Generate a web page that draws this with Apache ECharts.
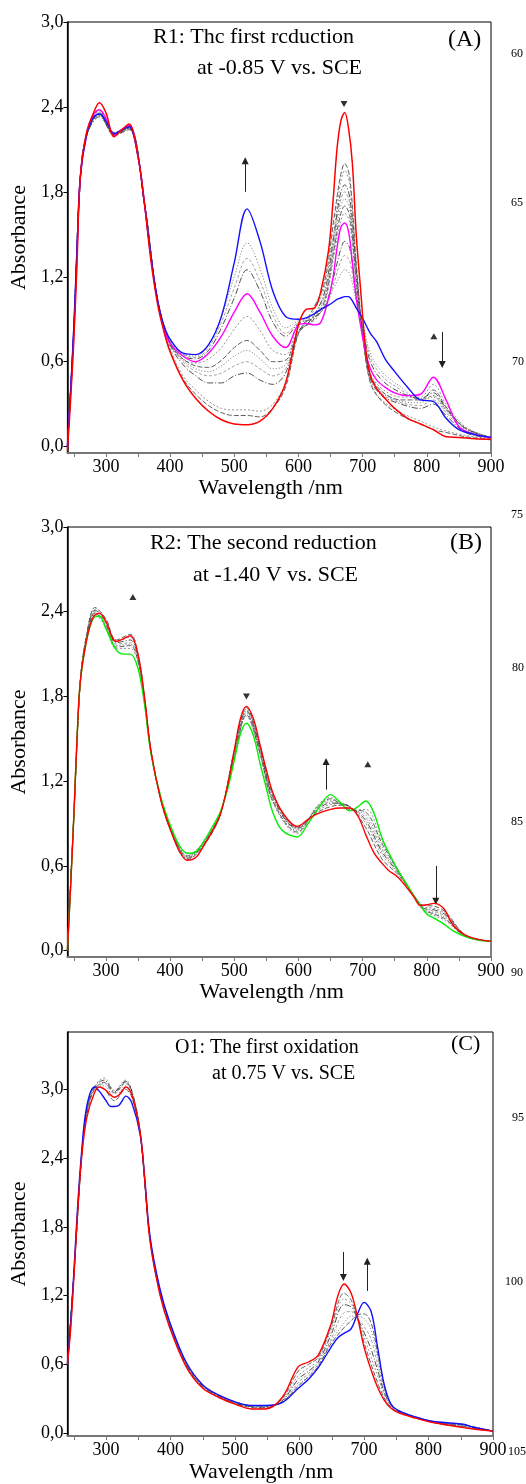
<!DOCTYPE html>
<html><head><meta charset="utf-8">
<script src="https://cdn.jsdelivr.net/npm/echarts@6.0.0/dist/echarts.min.js"></script>
<style>html,body{margin:0;padding:0;background:#fff}#c{width:526px;height:1484px}</style>
</head><body><div id="c"></div>
<script>
// ---------- Panel A : R1 ----------
const WL_A = [240,245,250,255,260,270,280,290,300,313,325,336,350,360,370,380,390,400,420,440,460,480,500,520,540,560,580,600,612,625,635,647,654,660,666,672,678,684,690,697,704,712,722,735,750,770,790,810,830,850,875,900];
const A_RED = [-0.03,0.33,0.75,1.3,1.9,2.22,2.35,2.43,2.36,2.19,2.24,2.28,2.05,1.72,1.32,1.02,0.82,0.67,0.47,0.34,0.25,0.19,0.16,0.155,0.18,0.27,0.45,0.86,0.97,0.98,1.1,1.39,1.74,2.1,2.3,2.36,2.25,2.0,1.5,1.1,0.72,0.5,0.41,0.34,0.27,0.2,0.16,0.12,0.07,0.065,0.055,0.05];
const A_BLUE = [0.0,0.4,0.85,1.4,1.9,2.2,2.32,2.35,2.3,2.21,2.24,2.26,2.05,1.72,1.35,1.05,0.86,0.76,0.66,0.65,0.72,0.92,1.3,1.68,1.45,1.1,0.92,0.9,0.91,0.94,0.97,1.0,1.02,1.04,1.05,1.06,1.06,1.03,0.98,0.93,0.87,0.8,0.74,0.62,0.53,0.42,0.33,0.32,0.2,0.12,0.085,0.065];
const A_MAGENTA = [0.0,0.38,0.8,1.35,1.9,2.22,2.34,2.38,2.32,2.2,2.24,2.27,2.05,1.72,1.34,1.04,0.84,0.73,0.64,0.6,0.66,0.78,0.95,1.08,0.95,0.78,0.7,0.86,0.87,0.86,0.88,1.05,1.2,1.4,1.55,1.58,1.52,1.3,1.05,0.85,0.68,0.55,0.47,0.42,0.38,0.36,0.37,0.49,0.33,0.14,0.085,0.065];
const WL_A_GRAY = [240,250,260,270,290,313,336,360,380,400,420,440,460,480,500,520,540,560,580,600,620,640,655,665,672,680,690,700,712,730,760,790,810,830,860,900];
const A_GRAY1 = [0.0,0.8,1.88,2.2,2.38,2.2,2.26,1.72,1.03,0.68,0.48,0.37,0.29,0.24,0.22,0.22,0.21,0.27,0.42,0.8,0.95,1.15,1.6,1.9,2.0,1.9,1.3,0.8,0.45,0.32,0.22,0.16,0.12,0.1,0.07,0.05];
const A_GRAY2 = [0.0,0.82,1.88,2.21,2.37,2.21,2.26,1.72,1.04,0.7,0.5,0.4,0.32,0.27,0.26,0.26,0.25,0.3,0.45,0.8,0.93,1.12,1.52,1.85,1.95,1.85,1.28,0.8,0.46,0.33,0.24,0.18,0.14,0.11,0.08,0.055];
const A_GRAY3 = [0.0,0.85,1.9,2.2,2.36,2.2,2.25,1.72,1.05,0.72,0.58,0.5,0.45,0.45,0.5,0.52,0.47,0.44,0.52,0.8,0.9,1.08,1.48,1.78,1.85,1.76,1.25,0.8,0.48,0.36,0.3,0.27,0.3,0.22,0.1,0.06];
const A_GRAY4 = [0.0,0.82,1.88,2.21,2.35,2.21,2.26,1.72,1.05,0.73,0.6,0.53,0.5,0.52,0.57,0.6,0.55,0.5,0.55,0.8,0.9,1.06,1.44,1.73,1.8,1.72,1.22,0.8,0.49,0.37,0.31,0.29,0.33,0.24,0.11,0.06];
const A_GRAY5 = [0.0,0.8,1.86,2.2,2.34,2.22,2.25,1.71,1.05,0.73,0.61,0.55,0.53,0.57,0.64,0.68,0.62,0.55,0.58,0.81,0.89,1.04,1.41,1.68,1.75,1.68,1.2,0.8,0.5,0.38,0.32,0.31,0.36,0.26,0.12,0.06];
const A_GRAY6 = [0.0,0.83,1.88,2.21,2.35,2.2,2.24,1.72,1.04,0.73,0.62,0.57,0.56,0.61,0.7,0.75,0.68,0.6,0.61,0.82,0.88,1.02,1.38,1.63,1.7,1.63,1.17,0.8,0.51,0.39,0.33,0.33,0.4,0.28,0.13,0.06];
const A_GRAY7 = [0.0,0.85,1.9,2.22,2.36,2.21,2.25,1.72,1.05,0.73,0.62,0.59,0.62,0.7,0.83,0.92,0.82,0.68,0.65,0.84,0.87,1.0,1.34,1.58,1.65,1.58,1.14,0.82,0.52,0.41,0.35,0.35,0.44,0.3,0.14,0.065];
const A_GRAY8 = [0.0,0.82,1.88,2.2,2.33,2.22,2.25,1.72,1.05,0.74,0.64,0.62,0.68,0.84,1.05,1.25,1.1,0.88,0.78,0.87,0.9,0.98,1.2,1.38,1.45,1.4,1.08,0.84,0.6,0.47,0.38,0.34,0.38,0.27,0.13,0.065];
const A_GRAY9 = [0.0,0.83,1.88,2.2,2.34,2.21,2.25,1.72,1.05,0.75,0.65,0.63,0.7,0.88,1.12,1.33,1.17,0.93,0.8,0.88,0.91,0.98,1.15,1.3,1.35,1.31,1.05,0.86,0.63,0.5,0.4,0.33,0.36,0.26,0.13,0.065];
const A_GRAY10 = [0.0,0.84,1.89,2.2,2.34,2.21,2.25,1.72,1.05,0.75,0.65,0.64,0.72,0.92,1.2,1.44,1.26,0.98,0.84,0.89,0.92,0.99,1.12,1.21,1.25,1.22,1.03,0.88,0.66,0.53,0.42,0.33,0.35,0.25,0.13,0.065];

// ---------- Panel B : R2 ----------
const WL_B = [240,245,250,255,260,270,280,290,300,316,328,338,350,360,370,386,401,415,427,440,452,465,478,490,500,510,519,530,540,550,560,575,598,615,630,650,665,680,693,705,718,730,740,755,770,780,790,800,811,826,841,860,880,900];
const B_RED = [0.0,0.45,0.95,1.5,1.9,2.2,2.36,2.39,2.33,2.19,2.21,2.23,2.1,1.8,1.42,1.06,0.85,0.7,0.64,0.66,0.74,0.84,0.96,1.18,1.42,1.65,1.73,1.64,1.46,1.28,1.12,0.98,0.88,0.93,0.97,1.0,1.01,1.01,0.95,0.82,0.69,0.62,0.57,0.52,0.44,0.38,0.32,0.325,0.335,0.3,0.18,0.11,0.08,0.066];
const B_GREEN = [0.0,0.45,0.95,1.5,1.9,2.2,2.35,2.37,2.28,2.13,2.1,2.1,2.0,1.75,1.4,1.08,0.88,0.74,0.69,0.7,0.77,0.87,0.98,1.15,1.35,1.54,1.61,1.52,1.33,1.15,0.98,0.85,0.805,0.9,1.0,1.105,1.05,0.99,1.02,1.06,0.97,0.8,0.7,0.57,0.46,0.385,0.32,0.26,0.23,0.19,0.14,0.1,0.075,0.066];
const WL_B_GRAY = [240,250,260,270,283,300,316,338,350,360,370,386,401,427,452,478,500,519,540,560,598,630,650,668,680,705,730,755,780,795,811,830,860,900];
const B_GRAY1 = [0.0,0.95,1.9,2.24,2.43,2.35,2.2,2.24,2.1,1.8,1.42,1.06,0.85,0.645,0.74,0.96,1.42,1.72,1.45,1.11,0.875,0.98,1.02,1.03,1.02,0.87,0.65,0.54,0.39,0.32,0.315,0.27,0.11,0.066];
const B_GRAY2 = [0.0,0.95,1.9,2.23,2.42,2.34,2.19,2.22,2.09,1.8,1.42,1.06,0.85,0.65,0.745,0.96,1.41,1.71,1.44,1.1,0.87,0.99,1.035,1.04,1.02,0.9,0.68,0.55,0.39,0.31,0.3,0.26,0.11,0.066];
const B_GRAY3 = [0.0,0.95,1.9,2.23,2.41,2.33,2.18,2.2,2.08,1.79,1.42,1.06,0.86,0.655,0.75,0.965,1.4,1.7,1.43,1.09,0.865,1.0,1.045,1.04,1.02,0.92,0.7,0.555,0.39,0.3,0.29,0.25,0.11,0.066];
const B_GRAY4 = [0.0,0.95,1.9,2.22,2.4,2.32,2.17,2.18,2.07,1.78,1.41,1.07,0.86,0.66,0.755,0.97,1.39,1.69,1.42,1.08,0.86,1.01,1.055,1.04,1.01,0.94,0.72,0.56,0.39,0.3,0.28,0.24,0.105,0.066];
const B_GRAY5 = [0.0,0.95,1.9,2.22,2.39,2.31,2.16,2.17,2.06,1.78,1.41,1.07,0.86,0.665,0.76,0.97,1.38,1.68,1.41,1.07,0.85,1.02,1.065,1.035,1.0,0.96,0.74,0.565,0.39,0.29,0.27,0.23,0.105,0.066];
const B_GRAY6 = [0.0,0.95,1.9,2.21,2.39,2.3,2.15,2.16,2.05,1.77,1.41,1.07,0.87,0.67,0.765,0.975,1.37,1.67,1.4,1.06,0.84,1.02,1.075,1.03,1.0,0.98,0.76,0.57,0.39,0.29,0.26,0.22,0.1,0.066];
const B_GRAY7 = [0.0,0.95,1.9,2.21,2.38,2.29,2.14,2.14,2.04,1.76,1.4,1.07,0.87,0.675,0.77,0.975,1.36,1.66,1.39,1.05,0.83,1.03,1.085,1.025,0.995,1.0,0.78,0.57,0.39,0.28,0.25,0.21,0.1,0.066];

// ---------- Panel C : O1 ----------
const WL_C = [240,245,250,255,262,270,282,290,300,307,313,320,331,340,353,360,368,383,398,424,450,475,501,525,547,573,598,614,629,649,659,669,680,690,700,711,721,731,741,752,780,803,829,854,870,900];
const C_RED = [0.6,0.9,1.35,1.85,2.4,2.75,2.97,3.02,2.99,2.95,2.93,2.95,3.02,2.95,2.62,2.2,1.68,1.22,0.93,0.58,0.39,0.31,0.25,0.21,0.21,0.31,0.58,0.62,0.68,0.955,1.19,1.3,1.22,1.01,0.75,0.55,0.4,0.29,0.22,0.18,0.13,0.096,0.07,0.047,0.035,0.017];
const C_BLUE = [0.6,0.95,1.4,1.9,2.45,2.85,3.02,2.98,2.9,2.85,2.85,2.86,2.94,2.88,2.6,2.22,1.72,1.27,0.98,0.62,0.42,0.33,0.27,0.24,0.24,0.265,0.39,0.47,0.57,0.75,0.83,0.87,0.91,1.04,1.14,1.06,0.75,0.43,0.26,0.2,0.14,0.105,0.09,0.076,0.05,0.017];
const WL_C_GRAY = [240,250,262,270,282,297,313,330,340,353,368,383,398,424,450,501,547,573,598,614,629,649,669,680,690,700,711,721,731,741,752,803,854,900];
const C_GRAY1 = [0.6,1.37,2.4,2.78,3.0,3.06,2.97,3.06,2.98,2.62,1.69,1.23,0.94,0.59,0.395,0.255,0.215,0.3,0.54,0.6,0.66,0.93,1.22,1.16,1.0,0.79,0.6,0.44,0.31,0.23,0.185,0.098,0.05,0.017];
const C_GRAY2 = [0.6,1.37,2.4,2.78,3.02,3.1,2.99,3.08,2.99,2.62,1.69,1.23,0.95,0.6,0.4,0.26,0.22,0.29,0.5,0.57,0.64,0.9,1.17,1.13,1.0,0.84,0.66,0.5,0.34,0.24,0.19,0.1,0.055,0.017];
const C_GRAY3 = [0.6,1.38,2.42,2.8,3.02,3.08,2.98,3.07,2.98,2.62,1.7,1.24,0.95,0.6,0.405,0.26,0.225,0.28,0.47,0.54,0.62,0.86,1.12,1.1,1.0,0.88,0.73,0.55,0.36,0.25,0.19,0.1,0.06,0.017];
const C_GRAY4 = [0.6,1.38,2.42,2.8,3.01,3.05,2.96,3.05,2.97,2.61,1.7,1.25,0.96,0.61,0.41,0.265,0.23,0.275,0.44,0.52,0.6,0.82,1.05,1.06,1.0,0.93,0.82,0.6,0.38,0.25,0.19,0.1,0.065,0.017];
const C_GRAY5 = [0.6,1.39,2.43,2.82,3.02,3.03,2.93,3.03,2.95,2.61,1.71,1.26,0.97,0.61,0.415,0.265,0.235,0.27,0.42,0.5,0.59,0.8,0.96,1.02,1.02,1.0,0.9,0.66,0.4,0.26,0.195,0.1,0.07,0.017];
const C_GRAY6 = [0.6,1.39,2.43,2.82,3.02,3.0,2.9,3.0,2.93,2.6,1.71,1.26,0.97,0.615,0.415,0.27,0.235,0.27,0.41,0.49,0.58,0.78,0.92,0.98,1.03,1.04,0.96,0.7,0.42,0.26,0.2,0.105,0.07,0.017];

// ---------- ticks, labels, annotations ----------
const X_LABELS = [300,400,500,600,700,800,900];
const X_TICKS = [250,300,350,400,450,500,550,600,650,700,750,800,850,900];
const Y_LABELS = [0,0.6,1.2,1.8,2.4,3.0];
const PANEL_TITLES = [
  ['R1: Thc first rcduction', 'at -0.85 V vs. SCE', '(A)'],
  ['R2: The second reduction', 'at -1.40 V vs. SCE', '(B)'],
  ['O1: The first oxidation', 'at 0.75 V vs. SCE', '(C)']
];
const LINE_NUMBERS = ['60','65','70','75','80','85','90','95','100','105'];
// annotation marks in data units: [wavelength, absorbance]
const A_TRIS = [[671, 2.42, 'down'], [811, 0.78, 'up']];
const A_ARROWS = [[517, 1.80, 2.02], [824, 0.81, 0.58]];
const B_TRIS = [[342, 2.505, 'up'], [519, 1.80, 'down'], [708, 1.32, 'up']];
const B_ARROWS = [[643, 1.14, 1.34], [814, 0.60, 0.35]];
const C_TRIS = [];
const C_ARROWS = [[668, 1.58, 1.357], [705, 1.24, 1.50]];

// ---------- build ----------
const FONT = 'Liberation Serif';
const pts = (wl, v) => wl.map((x, i) => [x, v[i]]);
const GRAY_STYLES = [
  {color:'#3a3a3a', type:[5,2]},
  {color:'#7a7a7a', type:[2,2]},
  {color:'#222', type:[6,2,1,2]},
  {color:'#8a8a8a', type:[3,2]},
  {color:'#555', type:[1,2]}
];
function line(gi, wl, v, color, width, type, z) {
  return {type:'line', xAxisIndex:gi, yAxisIndex:gi, data:pts(wl, v), symbol:'none', showSymbol:false,
    smooth:0.35, lineStyle:{color:color, width:width, type:type}, z:z, silent:true, animation:false};
}
function grays(gi, wl, list) {
  return list.map((v, i) => { const s = GRAY_STYLES[i % GRAY_STYLES.length]; return line(gi, wl, v, s.color, 0.8, s.type, 2); });
}
function annot(gi, tris, arrows) {
  return {type:'scatter', xAxisIndex:gi, yAxisIndex:gi, silent:true, animation:false, z:10,
    symbol:'triangle', symbolSize:[7,6], itemStyle:{color:'#000'},
    data: tris.map(t => ({value:[t[0], t[1]], symbolRotate: t[2] === 'down' ? 180 : 0})),
    markLine: {silent:true, animation:false, symbol:['none','triangle'], symbolSize:7,
      label:{show:false}, lineStyle:{color:'#222', width:1, type:'solid'},
      itemStyle:{color:'#000'},
      data: arrows.map(a => [{coord:[a[0], a[1]]}, {coord:[a[0], a[2]]}])}
  };
}
const GRIDS = [
  {left:60, top:22, width:431, height:431},
  {left:62, top:527, width:429, height:430},
  {left:63, top:1032, width:430, height:404}
];
const YR = [[-0.045, 3.0], [-0.045, 3.0], [-0.026, 3.5]];
const XNAME_PAD = [[0,17,0,0],[0,15,0,0],[0,38,0,0]];
const XNAME_GAP = [23, 22, 25];

const xAxes = GRIDS.map((g, i) => ({
  type:'value', gridIndex:i, min:240, max:900,
  axisLine:{show:true, onZero:false, lineStyle:{color:'#777', width:2}},
  axisTick:{show:true, customValues:X_TICKS, length:4, lineStyle:{color:'#777', width:1}},
  axisLabel:{customValues:X_LABELS, fontFamily:FONT, fontSize:18, color:'#000', margin:5},
  splitLine:{show:false},
  name:'Wavelength /nm', nameLocation:'middle', nameGap:XNAME_GAP[i],
  nameTextStyle:{fontFamily:FONT, fontSize:22, color:'#000', padding:XNAME_PAD[i]}
}));
const yAxes = GRIDS.map((g, i) => ({
  type:'value', gridIndex:i, min:YR[i][0], max:YR[i][1],
  axisLine:{show:true, onZero:false, lineStyle:{color:'#000', width:1.5}},
  axisTick:{show:true, customValues:Y_LABELS, length:4, lineStyle:{color:'#000', width:1}},
  axisLabel:{customValues:Y_LABELS, fontFamily:FONT, fontSize:18, color:'#000', margin:4,
    formatter: v => v.toFixed(1).replace('.', ',')},
  splitLine:{show:false},
  name:'Absorbance', nameLocation:'middle', nameGap:28,
  nameTextStyle:{fontFamily:FONT, fontSize:22, color:'#000'}
}));

const TITLE_POS = [
  [[153,25,22],[197,56,22],[448,27,24]],
  [[150,531,22],[193,563,22],[450,530,24]],
  [[175,1037,20],[212,1063,20],[451,1032,22]]
];
const LN_POS = [[511,47],[511,196],[512,355],[511,508],[512,661],[511,815],[511,966],[512,1111],[505,1275],[508,1445]];
const titles = [];
PANEL_TITLES.forEach((arr, p) => arr.forEach((t, k) => {
  const pos = TITLE_POS[p][k];
  titles.push({text:t, left:pos[0], top:pos[1], padding:0,
    textStyle:{fontFamily:FONT, fontSize:pos[2], fontWeight:'normal', color:'#000', lineHeight:pos[2]+2}});
}));
LINE_NUMBERS.forEach((t, k) => titles.push({text:t, left:LN_POS[k][0], top:LN_POS[k][1], padding:0,
  textStyle:{fontFamily:FONT, fontSize:12, fontWeight:'normal', color:'#000', lineHeight:14}}));

const series = [].concat(
  grays(0, WL_A_GRAY, [A_GRAY1,A_GRAY2,A_GRAY3,A_GRAY4,A_GRAY5,A_GRAY6,A_GRAY7,A_GRAY8,A_GRAY9,A_GRAY10]),
  [line(0, WL_A, A_MAGENTA, '#ff00ff', 1.4, 'solid', 4),
   line(0, WL_A, A_BLUE, '#1010ff', 1.4, 'solid', 5),
   line(0, WL_A, A_RED, '#ff0000', 1.5, 'solid', 6),
   annot(0, A_TRIS, A_ARROWS)],
  grays(1, WL_B_GRAY, [B_GRAY1,B_GRAY2,B_GRAY3,B_GRAY4,B_GRAY5,B_GRAY6,B_GRAY7]),
  [line(1, WL_B, B_GREEN, '#00ee00', 1.4, 'solid', 5),
   line(1, WL_B, B_RED, '#ff0000', 1.4, 'solid', 6),
   annot(1, B_TRIS, B_ARROWS)],
  grays(2, WL_C_GRAY, [C_GRAY1,C_GRAY2,C_GRAY3,C_GRAY4,C_GRAY5,C_GRAY6]),
  [line(2, WL_C, C_BLUE, '#1010ff', 1.4, 'solid', 5),
   line(2, WL_C, C_RED, '#ff0000', 1.4, 'solid', 6),
   annot(2, C_TRIS, C_ARROWS)]
);

const chart = echarts.init(document.getElementById('c'), null, {renderer:'canvas'});
chart.setOption({
  animation:false,
  backgroundColor:'#fff',
  title: titles,
  grid: GRIDS.map(g => Object.assign({show:true, borderColor:'#000', borderWidth:1, backgroundColor:'transparent', containLabel:false}, g)),
  xAxis: xAxes,
  yAxis: yAxes,
  series: series
});
</script></body></html>
